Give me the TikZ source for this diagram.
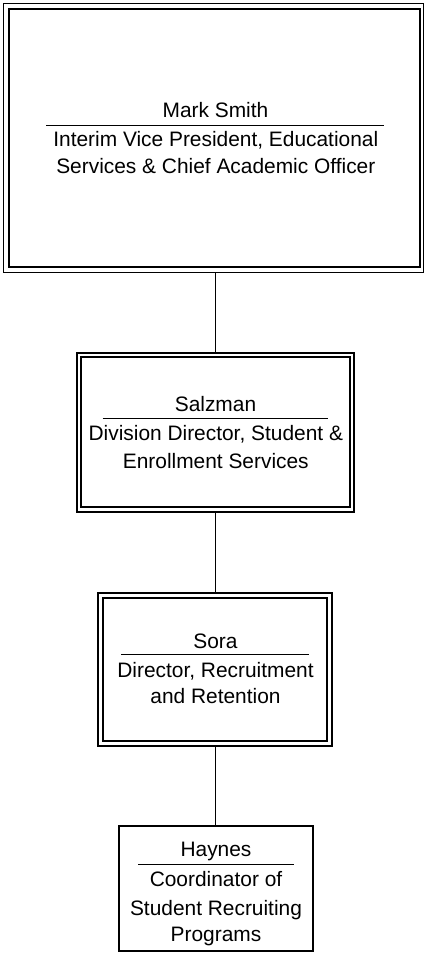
\documentclass[tikz,border=0pt]{standalone}
\usepackage{fontspec}
\setmainfont{Liberation Sans}
\begin{document}
\begin{tikzpicture}[x=1pt,y=-1pt,
  outerbox/.style={draw=black, line width=1.1pt, inner sep=0, minimum width=#1},
  innerbox/.style={draw=black, line width=1.8pt, inner sep=0},
  plainbox/.style={draw=black, line width=1.8pt, inner sep=0},
  txt/.style={inner sep=0, anchor=base, font=\fontsize{20.9}{27}\selectfont},
  namerule/.style={line width=1pt},
  conn/.style={line width=1.8pt}
]
\useasboundingbox (0,0) rectangle (425,961);

% Mark Smith
\node[outerbox=420pt, minimum height=269pt] (ms) at (213.5,138) {};
\node[innerbox, minimum width=411pt, minimum height=258pt] (msi) at (214.5,138) {};
\node[txt] (msn) at (215.5,117.3) {Mark Smith};
\coordinate (msrl) at (46,125); \coordinate (msrr) at (384,125);
\draw[namerule] (msrl) -- (msrr);
\node[txt] (ms1) at (215.8,146.7) {Interim Vice President, Educational};
\node[txt] (ms2) at (215.8,173.3) {Services \& Chief Academic Officer};

% Salzman
\node[outerbox=277pt, minimum height=159pt] (sal) at (215.5,432.5) {};
\node[innerbox, minimum width=269pt, minimum height=150pt] (sali) at (215.5,432) {};
\node[txt] (saln) at (215.5,411.7) {Salzman};
\coordinate (salrl) at (102.7,418.3); \coordinate (salrr) at (328.3,418.3);
\draw[namerule] (salrl) -- (salrr);
\node[txt] (sal1) at (215.8,440) {Division Director, Student \&};
\node[txt] (sal2) at (215.8,468.3) {Enrollment Services};

% Sora
\node[outerbox=234pt, minimum height=153pt] (sora) at (215,669.5) {};
\node[innerbox, minimum width=224pt, minimum height=143pt] (sorai) at (215,669.5) {};
\node[txt] (soran) at (215.5,648.3) {Sora};
\coordinate (sorarl) at (121,654.3); \coordinate (sorarr) at (309.3,654.3);
\draw[namerule] (sorarl) -- (sorarr);
\node[txt] (sora1) at (215.5,677.3) {Director, Recruitment};
\node[txt] (sora2) at (215.5,703.3) {and Retention};

% Haynes
\node[plainbox, minimum width=194pt, minimum height=125pt] (hay) at (216,888.5) {};
\node[txt] (hayn) at (216,856.7) {Haynes};
\coordinate (hayrl) at (138.3,864.3); \coordinate (hayrr) at (294,864.3);
\draw[namerule] (hayrl) -- (hayrr);
\node[txt] (hay1) at (216,886.7) {Coordinator of};
\node[txt] (hay2) at (216,915) {Student Recruiting};
\node[txt] (hay3) at (216,941.7) {Programs};

% connectors
\draw[conn] (ms.south -| sal.north) -- (sal.north);
\draw[conn] (sal.south) -- (sal.south |- sora.north);
\draw[conn] (sora.south -| sal.south) -- (sal.south |- hay.north);
\end{tikzpicture}
\end{document}
